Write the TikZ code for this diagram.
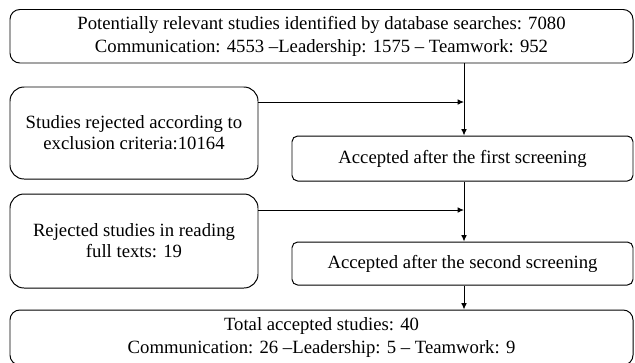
\documentclass[tikz,border=0pt]{standalone}
\usepackage{fontspec}
\setmainfont{Liberation Serif}
\usetikzlibrary{positioning, arrows.meta}
\tikzset{box/.style={draw, rounded corners=7pt, align=center, inner sep=2pt,
                     font=\fontsize{13.3}{16.2}\selectfont},
         side/.style={box, rounded corners=10pt, font=\fontsize{13.3}{14.8}\selectfont,
                      minimum width=6.2cm},
         step box/.style={box, rounded corners=4pt, minimum width=8.525cm},
         flow/.style={-{Latex[length=4.5pt,width=4pt]}, line width=0.7pt}}

\begin{document}
\begin{tikzpicture}[line width=0.7pt]
        \useasboundingbox (0,0) rectangle (15.875,-9.05);
        % Nodes
        \node[box, minimum width=15.575cm, minimum height=1.3375cm] (found) at (8.0375,-0.906)
            {Potentially relevant studies identified by database searches: 7080\\
             Communication: 4553 --Leadership: 1575 -- Teamwork: 952};
        \node[side, minimum height=2.3cm] (excl) at (3.35,-3.325)
            {Studies rejected according to\\ exclusion criteria:10164};
        \node[step box, minimum height=1.125cm] (first) at (11.5625,-3.9625)
            {Accepted after the first screening};
        \node[side, minimum height=2.35cm] (full) at (3.35,-6.025)
            {Rejected studies in reading\\ full texts: 19};
        \node[step box, minimum height=1.075cm] (second) at (11.5625,-6.5875)
            {Accepted after the second screening};
        \node[box, minimum width=15.575cm, minimum height=1.375cm] (total) at (8.0375,-8.4375)
            {Total accepted studies: 40\\
             Communication: 26 --Leadership: 5 -- Teamwork: 9};
        \coordinate (j1) at (11.6,-2.55);
        \coordinate (j2) at (11.6,-5.25);

        % Edges
        \draw[flow] (excl.east |- j1) -- (j1);
        \draw[flow] (found.south -| j1) -- (first.north -| j1);
        \draw[flow] (full.east |- j2) -- (j2);
        \draw[flow] (first.south -| j2) -- (second.north -| j2);
        \draw[flow] (second.south -| j2) -- (total.north -| j2);
    \end{tikzpicture}
\end{document}
